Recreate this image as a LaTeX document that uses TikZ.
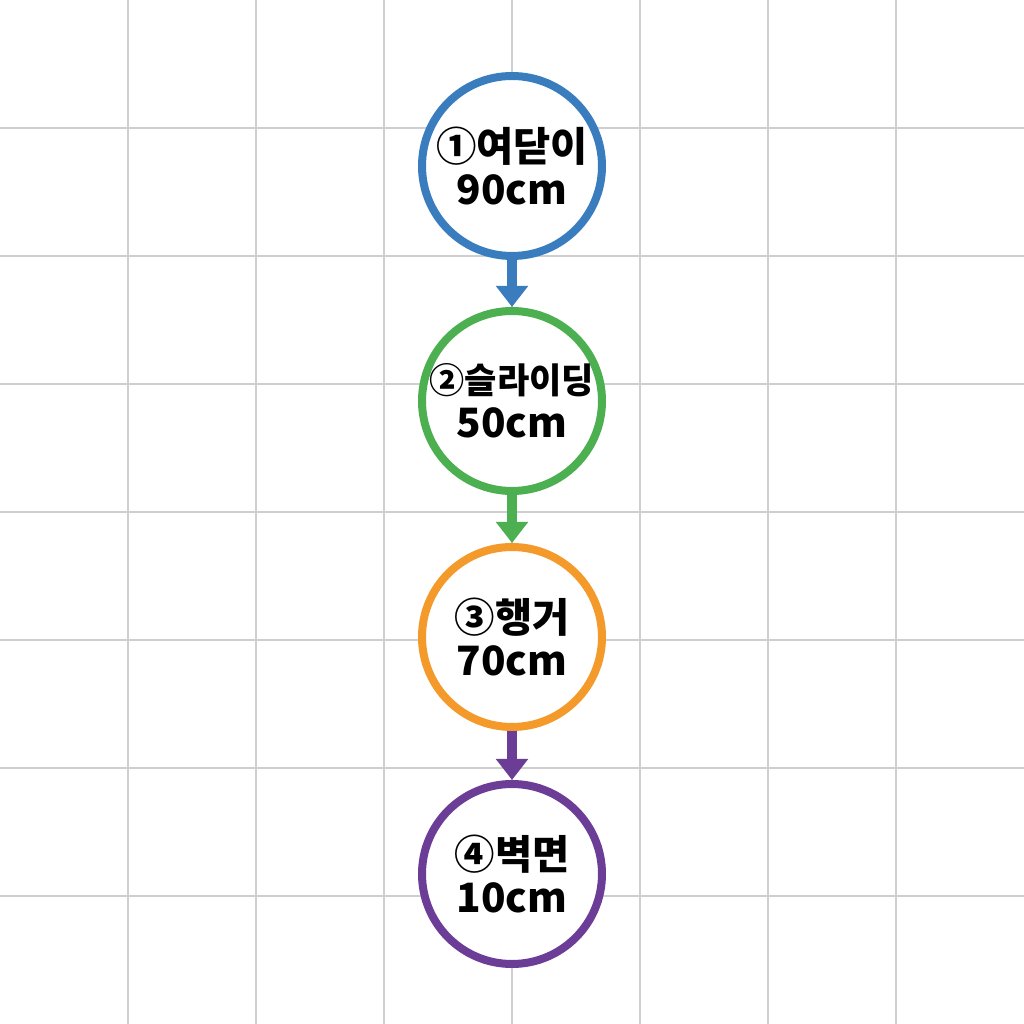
\documentclass[tikz,border=0pt]{standalone}
\usepackage{fontspec}
\usepackage{xcolor}
\usetikzlibrary{arrows.meta}
\newfontfamily\kofont{Noto Sans CJK KR}
\definecolor{doorBlue}{HTML}{3A7DBF}
\definecolor{slideGreen}{HTML}{4CAF50}
\definecolor{hangOrange}{HTML}{F39A2B}
\definecolor{wallPurple}{HTML}{6C3D96}
\definecolor{gridGray}{HTML}{CFCFCF}
\tikzset{
	stage/.style={circle, draw=#1, line width=0.8mm, fill=white, minimum size=1.8cm,
		inner sep=0pt, align=center, font=\kofont\bfseries\fontsize{11.5}{12.5}\selectfont},
	flow/.style={draw=#1, line width=1mm, -{Triangle[width=3.1mm,length=2.1mm]}}
}

\begin{document}
\begin{tikzpicture}
	\useasboundingbox (0,0) rectangle (10.24,10.24);
	\fill[white] (0,0) rectangle (10.24,10.24);
	% grid
	\foreach \g in {1,...,7} {
		\draw[gridGray, line width=0.4pt] (\g*1.28, 0) -- (\g*1.28, 10.24);
		\draw[gridGray, line width=0.4pt] (0, \g*1.28) -- (10.24, \g*1.28);
	}
	\node[stage=doorBlue] (door) at (5.12, 8.58) {①여닫이\\90cm};
	\node[stage=slideGreen] (slide) at (5.12, 6.23) {{\fontsize{10}{12.5}\selectfont ②슬라이딩}\\50cm};
	\node[stage=hangOrange] (hanger) at (5.12, 3.87) {③행거\\70cm};
	\node[stage=wallPurple] (wall) at (5.12, 1.50) {④벽면\\10cm};
	\draw[flow=doorBlue] (door.south) -- (slide.north);
	\draw[flow=slideGreen] (slide.south) -- (hanger.north);
	\draw[flow=wallPurple] (hanger.south) -- (wall.north);
\end{tikzpicture}
\end{document}
